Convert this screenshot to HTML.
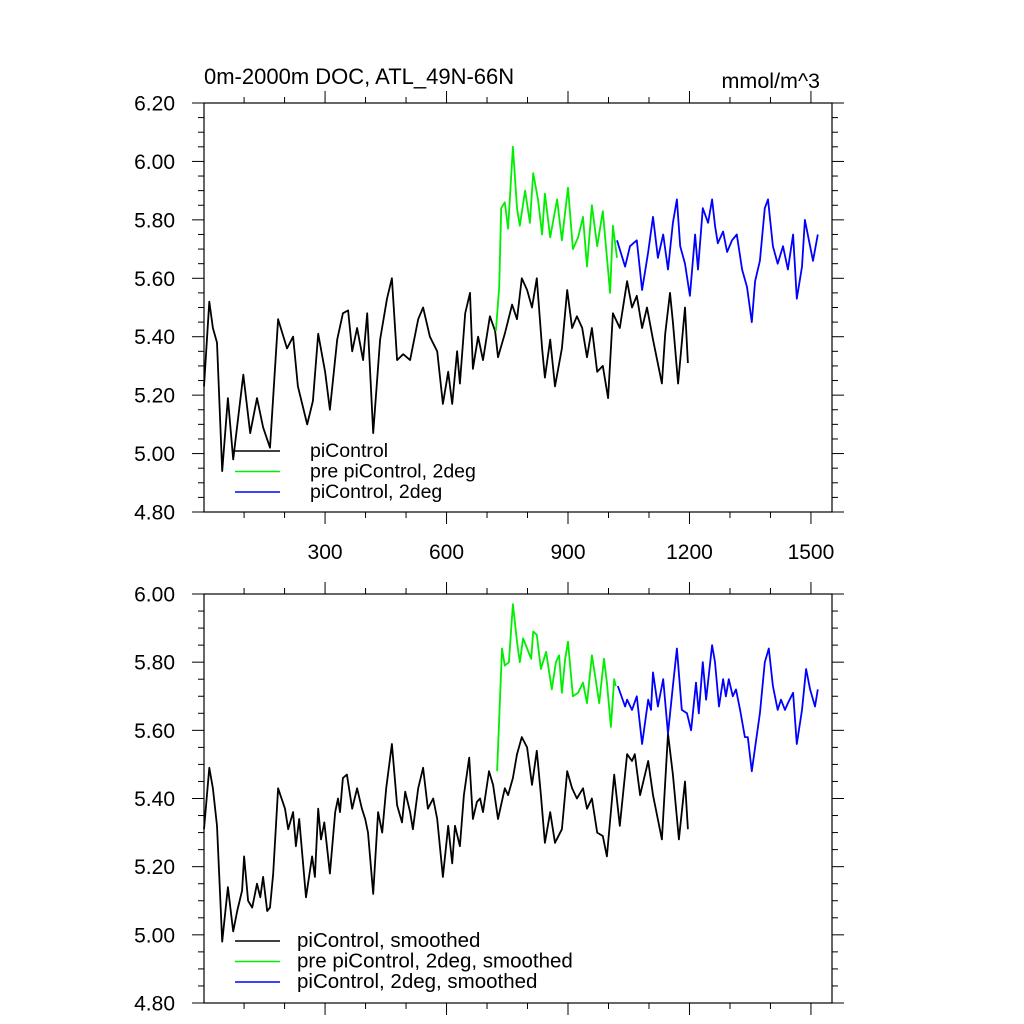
<!DOCTYPE html>
<html><head><meta charset="utf-8"><style>
html,body{margin:0;padding:0;background:#fff;}
svg{display:block;font-family:"Liberation Sans",sans-serif;}
</style></head><body>
<svg id="chart" width="1024" height="1024" viewBox="0 0 1024 1024">
<text x="204" y="84" font-size="22">0m-2000m DOC, ATL_49N-66N</text>
<text x="820" y="88" font-size="21.5" text-anchor="end">mmol/m^3</text>
<g id="top"></g>
<g id="bot"></g>
</svg>
<script>
// ---- data: top panel (raw annual) ----
const blackYears=[1,14,23,33,46,60,73,98,115,132,147,164,184,206,221,233,256,270,283,300,312,330,344,357,367,379,394,404,419,436,453,465,478,493,510,530,542,559,577,591,604,614,626,633,646,658,665,678,690,707,720,727,744,762,774,786,799,811,823,836,843,856,868,885,898,910,922,935,947,959,972,986,999,1011,1028,1046,1058,1070,1083,1095,1110,1132,1140,1152,1159,1172,1189,1196];
const blackVals=[5.23,5.52,5.43,5.38,4.94,5.19,4.98,5.27,5.07,5.19,5.09,5.02,5.46,5.36,5.40,5.23,5.10,5.18,5.41,5.28,5.15,5.39,5.48,5.49,5.35,5.43,5.32,5.48,5.07,5.39,5.53,5.60,5.32,5.34,5.32,5.46,5.50,5.40,5.35,5.17,5.28,5.17,5.35,5.24,5.48,5.55,5.29,5.40,5.32,5.47,5.42,5.33,5.41,5.51,5.46,5.60,5.56,5.50,5.60,5.36,5.26,5.39,5.23,5.36,5.56,5.43,5.47,5.43,5.33,5.43,5.28,5.30,5.19,5.48,5.43,5.59,5.50,5.54,5.43,5.50,5.39,5.24,5.41,5.55,5.45,5.24,5.50,5.31];
const greenYears=[722,730,735,744,752,764,774,781,794,806,814,826,836,843,856,873,885,900,912,925,937,947,959,972,986,1004,1011,1021];
const greenVals=[5.42,5.57,5.84,5.86,5.77,6.05,5.84,5.78,5.90,5.79,5.96,5.87,5.75,5.89,5.74,5.87,5.73,5.91,5.70,5.74,5.81,5.64,5.85,5.71,5.83,5.55,5.78,5.67];
const blueYears=[1021,1041,1053,1070,1083,1098,1110,1122,1135,1147,1159,1169,1177,1189,1201,1214,1221,1233,1246,1256,1263,1270,1283,1293,1305,1317,1330,1342,1354,1362,1374,1386,1394,1406,1418,1431,1443,1456,1465,1478,1485,1498,1505,1517];
const blueVals=[5.73,5.64,5.71,5.73,5.56,5.69,5.81,5.67,5.75,5.63,5.79,5.87,5.71,5.65,5.54,5.75,5.63,5.84,5.79,5.87,5.78,5.72,5.76,5.69,5.73,5.75,5.63,5.57,5.45,5.59,5.66,5.84,5.87,5.71,5.65,5.71,5.63,5.75,5.53,5.64,5.80,5.71,5.66,5.75];
// ---- data: bottom panel (smoothed) ----
const sBlackYears=[1,14,23,33,46,60,73,83,95,100,110,120,132,140,147,157,164,172,184,201,209,221,228,236,253,268,275,283,290,298,312,325,332,337,344,354,367,379,391,399,406,419,431,441,451,465,478,490,498,510,517,530,542,554,567,577,591,604,614,621,633,643,656,665,675,683,690,705,715,727,744,752,764,774,786,799,811,823,833,843,856,868,885,898,910,922,937,947,959,972,986,996,1014,1028,1046,1058,1065,1078,1098,1110,1132,1147,1159,1174,1189,1196];
const sBlackVals=[5.31,5.49,5.43,5.32,4.98,5.14,5.01,5.07,5.13,5.23,5.10,5.08,5.15,5.11,5.17,5.07,5.08,5.18,5.43,5.37,5.31,5.36,5.26,5.34,5.11,5.23,5.17,5.37,5.28,5.33,5.18,5.36,5.40,5.36,5.46,5.47,5.37,5.43,5.37,5.34,5.30,5.12,5.36,5.30,5.43,5.56,5.38,5.33,5.42,5.36,5.31,5.43,5.49,5.37,5.40,5.34,5.17,5.32,5.21,5.32,5.26,5.41,5.52,5.34,5.39,5.40,5.36,5.48,5.44,5.34,5.43,5.41,5.46,5.53,5.58,5.55,5.44,5.54,5.41,5.27,5.36,5.27,5.31,5.48,5.43,5.40,5.43,5.37,5.40,5.30,5.29,5.23,5.47,5.32,5.53,5.51,5.53,5.41,5.51,5.41,5.28,5.59,5.47,5.28,5.45,5.31];
const sGreenYears=[725,737,744,754,764,774,781,789,799,809,814,823,833,846,860,870,878,885,893,900,912,925,937,947,959,967,977,989,996,1006,1014,1018];
const sGreenVals=[5.48,5.84,5.79,5.80,5.97,5.86,5.80,5.87,5.84,5.81,5.89,5.88,5.78,5.83,5.72,5.80,5.82,5.71,5.81,5.86,5.70,5.71,5.74,5.68,5.82,5.76,5.68,5.81,5.74,5.61,5.75,5.73];
const sBlueYears=[1023,1041,1046,1058,1070,1083,1098,1105,1110,1122,1135,1147,1159,1169,1181,1194,1204,1216,1223,1233,1241,1256,1263,1273,1283,1290,1297,1307,1315,1325,1337,1344,1354,1362,1374,1386,1396,1406,1418,1426,1436,1443,1456,1465,1478,1488,1498,1510,1517];
const sBlueVals=[5.73,5.67,5.69,5.66,5.70,5.56,5.69,5.66,5.77,5.67,5.75,5.59,5.73,5.84,5.66,5.65,5.60,5.74,5.65,5.80,5.69,5.85,5.80,5.67,5.75,5.70,5.75,5.70,5.72,5.66,5.58,5.58,5.48,5.55,5.65,5.80,5.84,5.73,5.66,5.69,5.66,5.68,5.71,5.56,5.66,5.78,5.72,5.67,5.72];
const xTickVals=[300,600,900,1200,1500];
const topYTicks=["4.80","5.00","5.20","5.40","5.60","5.80","6.00","6.20"];
const botYTicks=["4.80","5.00","5.20","5.40","5.60","5.80","6.00"];
const topLegend=["piControl","pre piControl, 2deg","piControl, 2deg"];
const botLegend=["piControl, smoothed","pre piControl, 2deg, smoothed","piControl, 2deg, smoothed"];

const NS="http://www.w3.org/2000/svg";
const L=204,R=832,XMIN=1,XMAX=1552;
function xs(v){return L+(v-XMIN)*(R-L)/(XMAX-XMIN);}
function mk(tag,parent,attrs){const e=document.createElementNS(NS,tag);for(const k in attrs)e.setAttribute(k,attrs[k]);parent.appendChild(e);return e;}

function panel(g,T,B,ymin,ymax,yt,showXLabels,series,legend,legY,legTextX,legFont,pfx){
  const ys=v=>B-(v-ymin)*(B-T)/(ymax-ymin);
  const frame=mk('rect',g,{x:L,y:T,width:R-L,height:B-T,fill:'none',stroke:'#000','stroke-width':1.2});
  
  
  for(let v=ymin;v<=ymax+1e-9;v+=0.05){
    const major=Math.abs((v-ymin)/0.2-Math.round((v-ymin)/0.2))<1e-6;
    const len=major?12:6,y=ys(v);
    const t1=mk('line',g,{x1:L-len,x2:L,y1:y,y2:y,stroke:'#000','stroke-width':1});
    
    
    const t2=mk('line',g,{x1:R,x2:R+len,y1:y,y2:y,stroke:'#000','stroke-width':1});
    
    
  }
  yt.forEach(s=>{
    const t=mk('text',g,{x:175,y:ys(parseFloat(s))+7.5,'font-size':21,'text-anchor':'end'});
    
    
    t.textContent=s;
  });
  for(let v=100;v<=XMAX;v+=100){
    const major=v%300===0,len=major?12:6,x=xs(v);
    const a=mk('line',g,{x1:x,x2:x,y1:T-len,y2:T,stroke:'#000','stroke-width':1});
    
    
    const b=mk('line',g,{x1:x,x2:x,y1:B,y2:B+len,stroke:'#000','stroke-width':1});
    
    
  }
  if(showXLabels){
    xTickVals.forEach(v=>{
      const t=mk('text',g,{x:xs(v),y:559,'font-size':21,'text-anchor':'middle'});
      
      
      t.textContent=String(v);
    });
  }
  series.forEach((s,i)=>{
    const d=s.x.map((xv,j)=>(j?'L':'M')+xs(xv).toFixed(1)+','+ys(s.y[j]).toFixed(1)).join(' ');
    const p=mk('path',g,{d:d,fill:'none',stroke:s.c,'stroke-width':1.8,'stroke-linejoin':'round'});
    
    
    const ly=legY+i*20.5;
    const ll=mk('line',g,{x1:235,x2:280,y1:ly,y2:ly,stroke:s.c,'stroke-width':1.5});
    
    
    const lt=mk('text',g,{x:legTextX,y:ly+6,'font-size':legFont});
    
    
    lt.textContent=legend[i];
  });
}
panel(document.getElementById('top'),103,512,4.8,6.2,topYTicks,true,[
  {x:blackYears,y:blackVals,c:'#000',n:'picontrol'},
  {x:greenYears,y:greenVals,c:'#00ee00',n:'pre-picontrol-2deg'},
  {x:blueYears,y:blueVals,c:'#0000ff',n:'picontrol-2deg'}],topLegend,451,310,19.5,'top');
panel(document.getElementById('bot'),594,1003,4.8,6.0,botYTicks,false,[
  {x:sBlackYears,y:sBlackVals,c:'#000',n:'picontrol'},
  {x:sGreenYears,y:sGreenVals,c:'#00ee00',n:'pre-picontrol-2deg'},
  {x:sBlueYears,y:sBlueVals,c:'#0000ff',n:'picontrol-2deg'}],botLegend,941,297,20.5,'bottom');
</script>
</body></html>
